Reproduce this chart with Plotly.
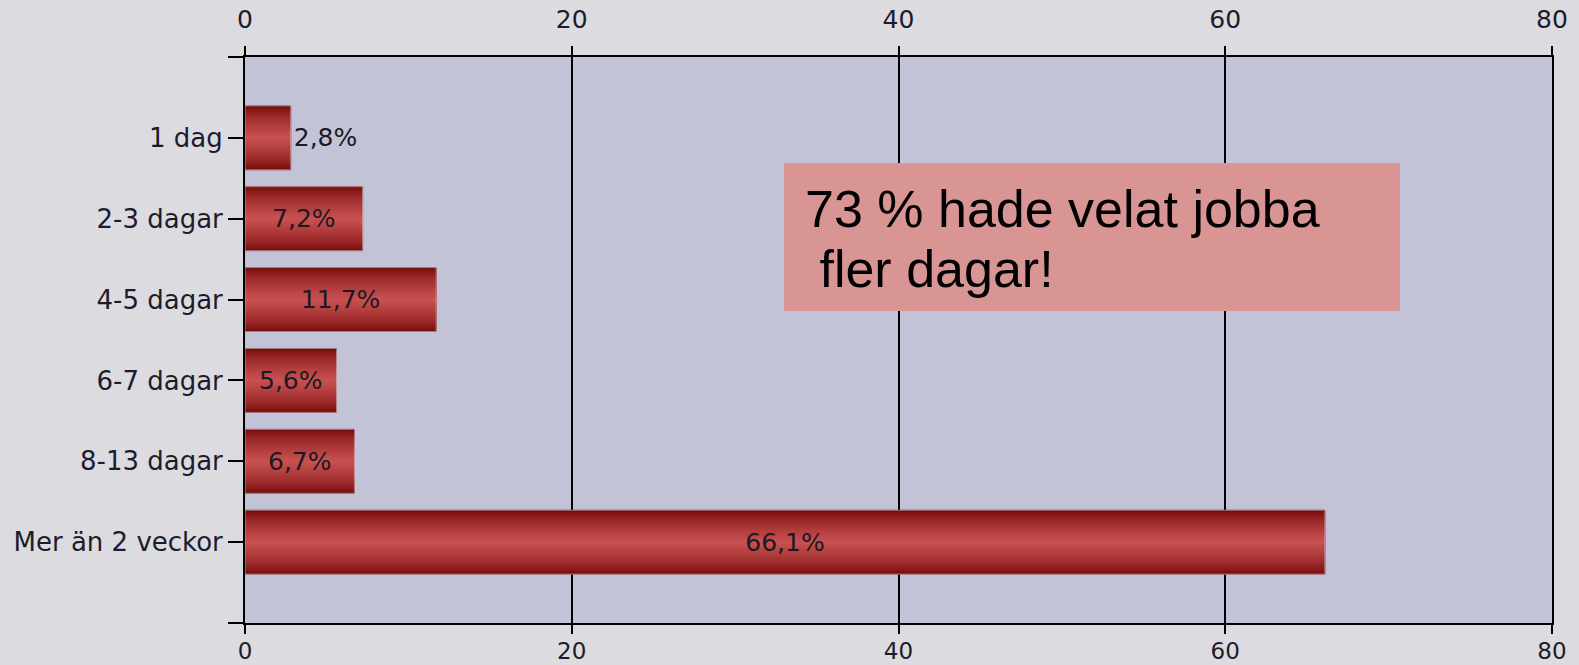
import plotly.graph_objects as go

categories = ["1 dag", "2-3 dagar", "4-5 dagar", "6-7 dagar", "8-13 dagar", "Mer än 2 veckor"]
values = [2.8, 7.2, 11.7, 5.6, 6.7, 66.1]
labels = ["2,8%", "7,2%", "11,7%", "5,6%", "6,7%", "66,1%"]
x_ticks = [0, 20, 40, 60, 80]
note_lines = ["73 % hade velat jobba", " fler dagar!"]

ypos = list(range(len(categories)))

W, H = 1579, 665
L, R, T, B = 245, 27, 57, 42
pw, ph = W - L - R, H - T - B

fig = go.Figure()

# gradient simulation via overlaid bars of decreasing thickness
edge = (118, 10, 10)
mid = (200, 80, 80)
nlay = 20
base_w = 0.79
for i in range(nlay):
    f = i / (nlay - 1)
    w = base_w * (1 - f * 0.95)
    c = tuple(int(edge[k] + (mid[k] - edge[k]) * (f ** 0.7)) for k in range(3))
    fig.add_trace(go.Bar(
        x=values, y=ypos, orientation="h", width=w,
        marker=dict(color="rgb(%d,%d,%d)" % c,
                    line=dict(width=1 if i == 0 else 0, color="rgb(105,8,8)")),
        hoverinfo="skip", showlegend=False,
    ))

lblfont = dict(family="DejaVu Sans", size=25, color="#1a1a24")
# transparent bar carrying text
fig.add_trace(go.Bar(
    x=values, y=ypos, orientation="h", width=base_w,
    marker=dict(color="rgba(0,0,0,0)"),
    text=labels, textposition="auto", insidetextanchor="middle",
    textfont=lblfont, insidetextfont=lblfont, outsidetextfont=lblfont,
    constraintext="none", cliponaxis=False, showlegend=False,
))

# top axis trace
fig.add_trace(go.Scatter(x=[0, 80], y=[0, 0], xaxis="x2", mode="markers",
                         marker=dict(opacity=0), hoverinfo="skip", showlegend=False))

axcommon = dict(range=[0, 80], tickvals=x_ticks, ticks="outside", ticklen=9, tickwidth=2,
                tickcolor="black", showline=True, linecolor="black",
                linewidth=2, zeroline=False, automargin=False)

fig.update_layout(
    width=W, height=H,
    margin=dict(l=L, r=R, t=T, b=B),
    paper_bgcolor="#dcdbe0",
    plot_bgcolor="#c2c3d6",
    barmode="overlay",
    xaxis=dict(**axcommon, showgrid=True, gridcolor="black", gridwidth=2, side="bottom",
               mirror=False, ticklabelstandoff=-3,
               tickfont=dict(family="DejaVu Sans", size=23, color="#1c1c2c")),
    xaxis2=dict(**axcommon, overlaying="x", side="top", showgrid=False, ticklabelstandoff=8,
                tickfont=dict(family="DejaVu Sans", size=25, color="#1c1c2c")),
    yaxis=dict(range=[6, -1], tickvals=[-1] + ypos + [6], ticktext=[""] + categories + [""],
               ticks="outside", ticklen=15, tickwidth=2, tickcolor="black",
               tickfont=dict(family="DejaVu Sans", size=26, color="#1c1c2c"),
               showline=True, linecolor="black", linewidth=2, automargin=False,
               mirror=True, showgrid=False, zeroline=False, ticklabelstandoff=0),
    font=dict(family="DejaVu Sans"),
)

# annotation box
bx0, bx1, by0, by1 = 784, 1400, 163, 311
fig.add_shape(type="rect", xref="paper", yref="paper",
              x0=(bx0 - L) / pw, x1=(bx1 - L) / pw,
              y0=(H - B - by1) / ph, y1=(H - B - by0) / ph,
              fillcolor="#d99594", line=dict(width=0), layer="above")

line_tops = [178, 238]
for txt, ty in zip(note_lines, line_tops):
    fig.add_annotation(xref="paper", yref="paper", x=(803 - L) / pw, y=(H - B - ty) / ph,
                       xanchor="left", yanchor="top",
                       text=txt.replace(" ", "&nbsp;", 1) if txt.startswith(" ") else txt,
                       showarrow=False, align="left",
                       font=dict(family="Liberation Sans, Arial", size=52, color="black"))

fig.write_html("out.html", config={"displayModeBar": False},
               post_script="document.body.style.margin='0px';")
